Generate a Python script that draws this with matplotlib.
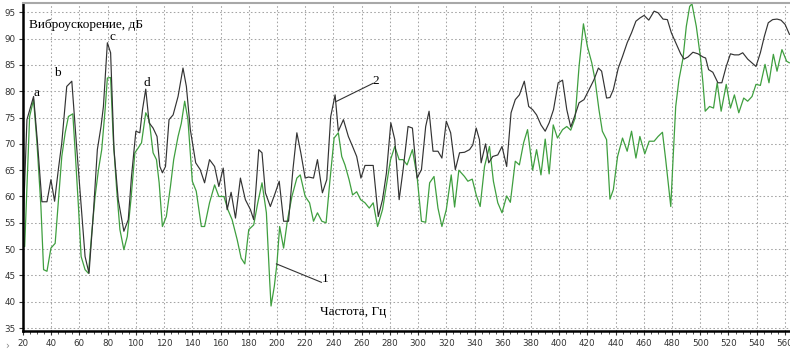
import matplotlib.pyplot as plt
from matplotlib.ticker import MultipleLocator

# black curve (2)
freq_black = [20, 22.8, 27.5, 30.2, 33.4, 37, 39.8, 42.4, 45, 47.5, 51, 54.6, 58, 61.6, 64, 66.8,
              69.9, 72.7, 75.3, 77, 79.8, 82.1, 84.5, 87.5, 91.5, 94.6, 96.9, 100, 102.8, 104.7,
              107, 109.4, 112.2, 115, 117, 118.8, 121, 123.5, 126.4, 129.9, 133.4, 135.8, 138.6,
              142.4, 145.6, 148.7, 152.2, 155.8, 158.8, 161.9, 164.7, 167.5, 170.6, 174.1, 177.6,
              181.2, 183.5, 187.1, 189.4, 191.8, 195.3, 198.8, 201.6, 204.7, 208.2, 211.3, 214.1,
              216.9, 220, 222.4, 225.9, 228.7, 232.2, 235.3, 238.1, 241.2, 243.5, 247.1, 250.6,
              253.6, 256.5, 259.5, 262.4, 268.2, 271.8, 274.8, 277.6, 280.7, 283.5, 286.6, 289.4,
              292.9, 296, 299.3, 302.4, 305.4, 307.8, 310.6, 314.1, 316.9, 320, 323.1, 326.4,
              329.4, 332.9, 336.5, 338.8, 341.2, 343.5, 344.7, 347.8, 350.1, 352.9, 356.5, 359.5,
              362.8, 365.9, 368.9, 371.8, 375.3, 378.4, 381.2, 384, 387.1, 390.1, 392.9, 396,
              399.3, 402.4, 405.4, 408.2, 411.3, 414.1, 417.6, 421.2, 424.7, 427.8, 430.1, 433.6,
              436, 438.4, 441.9, 444.9, 448.2, 451.3, 454.4, 457.2, 460.2, 463.5, 467.3, 470.1,
              473.6, 476.7, 479.5, 483.1, 486.1, 488.5, 491.3, 494.8, 498.4, 501.9, 503.8, 505.9,
              508.9, 512.5, 515.3, 518.4, 521.4, 524.2, 527.3, 530.1, 533.6, 536.5, 539.5, 542.6,
              545.4, 548.2, 551.3, 554.4, 557.2, 560.1, 563.2]
level_black = [53.7, 74.6, 79.0, 70.5, 59.0, 59.0, 63.2, 59.1, 65, 70.2, 80.9, 81.9, 69.5, 56.9, 48.6,
               45.4, 56.9, 68.9, 73.3, 77.1, 89.2, 87.3, 68.9, 59.4, 53.4, 55.6, 63.8, 72.4, 72.1,
               76.5, 80.4, 74, 73, 71.4, 65.7, 64.5, 65.7, 74.6, 75.5, 79, 84.4, 80.9, 72.7, 66.4,
               65.1, 62.6, 67, 65.7, 61.9, 65.4, 57.5, 60.8, 55.9, 63.5, 59.4, 57.5, 55.6, 68.9,
               68.3, 60.7, 58.1, 60.7, 62.9, 55.3, 55.3, 65.1, 72.1, 68.3, 63.5, 63.7, 63.5, 67,
               60.7, 63.2, 75.2, 79.3, 72.4, 74.6, 71.4, 69.5, 67.6, 63.5, 65.9, 65.9, 56.2, 59.4,
               64.5, 74, 70.8, 59.4, 65.1, 73.3, 73, 63.5, 65.1, 73.3, 76.2, 68.6, 68.6, 67.3,
               74.3, 72.1, 65.1, 68.3, 68.4, 68.9, 69.8, 73, 70.8, 66.4, 70, 66.4, 67.6, 67.9,
               69.5, 65.7, 75.9, 78.4, 79.3, 81.9, 77.1, 76.5, 75.5, 73.6, 72.4, 74, 76.5, 81.6,
               82.1, 76.5, 73.2, 75.5, 77.8, 78.4, 80.3, 82.2, 84.4, 83.8, 78.7, 78.8, 80.3, 84.4,
               86.6, 89.2, 91.1, 93.3, 93.9, 94.4, 93.5, 95.2, 94.9, 93.7, 93.6, 91.1, 88.9, 87.1,
               86.1, 86.5, 87.4, 87.1, 86.5, 86.3, 84.1, 83.6, 81.6, 81.6, 84.7, 87.1, 86.9, 86.9,
               87.3, 86.1, 85.4, 84.7, 87.3, 90.4, 93, 93.6, 93.7, 93.5, 92.7, 90.8]

# green curve (1)
freq_green = [20, 21.2, 24.7, 27.5, 29.9, 32.7, 34.6, 37, 39.8, 42.8, 45.2, 47.5, 49.9, 52.2, 55.3,
              56.9, 59.3, 61.2, 64, 66.4, 68.7, 71.1, 73.5, 75.8, 78.2, 79.8, 82.1, 84, 86.4, 88.7,
              91.5, 93.9, 96.5, 99.3, 101.6, 104, 107, 109.4, 112.2, 114.6, 116.5, 118.8, 121.6,
              124.5, 126.8, 129.9, 132.2, 134.6, 136.9, 140, 142.8, 146.4, 148.7, 152.2, 155.8,
              158.8, 162.4, 165.2, 168.2, 171.8, 174.6, 177.2, 180, 183.5, 186.4, 189.4, 192.5,
              194.8, 195.8, 198.1, 200, 201.9, 204.7, 207.5, 210.6, 214.1, 216.5, 220, 223.1,
              225.9, 228.7, 231.8, 234.8, 237.6, 240.5, 243.5, 245.9, 248.2, 251.1, 253.6, 256.5,
              259.3, 262.4, 265.4, 268.2, 271.3, 274.8, 277.6, 280.5, 283.5, 286.6, 289.4, 292.2,
              296, 299.3, 302.4, 305.4, 308.2, 311.3, 314.1, 316.9, 320, 323.5, 325.9, 328.9,
              332.9, 335.3, 338.4, 341.2, 344, 347.1, 350.6, 353.4, 356.5, 359.5, 362.8, 365.4,
              368.9, 371.8, 374.8, 377.6, 381.2, 384, 387.1, 390.1, 392.9, 395.8, 398.8, 402.4,
              405.4, 408.2, 411.3, 414.1, 417.2, 420, 423.1, 425.4, 428.2, 430.6, 433.6, 436,
              438.4, 441.4, 444.9, 448.2, 451.3, 454.4, 457.2, 460.7, 463.8, 467.3, 470.1, 473.2,
              475.5, 477.6, 479.1, 480.7, 482.6, 484.9, 487.8, 490.1, 492.5, 494.1, 497.2, 500.2,
              501.9, 503.5, 506.6, 509.4, 512, 514.8, 518.4, 521.4, 524.2, 527.3, 530.8, 533.6,
              536.7, 539.5, 542.6, 545.9, 548.7, 551.8, 554.4, 557.9, 561.2, 563.1]
level_green = [50.5, 50.5, 75.2, 78.4, 70.2, 58.1, 46.1, 45.8, 50.2, 51.1, 59.4, 67.6, 72.1, 75.2,
               75.7, 68.9, 58.1, 48.6, 46.1, 45.4, 53, 60, 65.1, 68.9, 76.5, 82.5, 82.6, 70.8,
               61.3, 53.7, 49.9, 52.4, 59.4, 68.3, 69.2, 70.2, 75.9, 74.6, 68.3, 67, 62.6, 54.3,
               56.2, 61.9, 67, 71.4, 73.9, 78.1, 74.6, 62.9, 61, 54.3, 54.3, 58.8, 62.2, 60, 60,
               57.5, 55.6, 51.8, 48.3, 47.2, 53.7, 54.6, 58.8, 62.6, 56.9, 44.2, 39.2, 42.9, 47.3,
               54.3, 50.2, 55.6, 60, 63.5, 64.1, 60, 58.8, 55.3, 56.9, 55.3, 55, 63.2, 71.1, 72.1,
               67.6, 66, 63.2, 60.3, 60.9, 59.4, 58.8, 57.8, 58.8, 54.3, 57.5, 62.2, 67, 69.5, 67,
               67, 66, 68.9, 63.8, 55.3, 55.1, 62.6, 63.8, 57.8, 54.3, 57.5, 64.1, 58, 65, 63.8,
               62.9, 63.3, 60.3, 58.1, 65.7, 69.5, 62.9, 58.8, 56.9, 60.1, 58.9, 66.7, 66, 70.2,
               72.7, 65, 68.9, 64.1, 70.9, 64.3, 73.6, 71.1, 72.7, 73.3, 72.6, 74.9, 84.7, 92.8,
               88.5, 85.4, 82.2, 76.5, 72.4, 70.8, 59.5, 61.3, 67.6, 71.1, 68.6, 72.4, 67.3, 71.4,
               68.1, 70.5, 70.5, 71.4, 72.2, 67, 61.9, 58.1, 67, 77.1, 82.2, 86.3, 92.3, 96.1,
               96.6, 92.3, 86.3, 81.6, 76.2, 77.1, 76.8, 81.6, 76.2, 81.3, 76.8, 79.3, 75.9, 78.7,
               78.1, 79, 81.3, 81.1, 85.1, 81.6, 87, 83.8, 87.9, 85.7, 85.4]

x_ticks = list(range(20, 561, 20))
y_ticks = list(range(35, 96, 5))

fig = plt.figure(figsize=(7.9, 3.53), dpi=100)
ax = fig.add_axes([0.0291, 0.0623, 0.9709, 0.9284])

ax.plot(freq_green, level_green, color='#3f9f3f', lw=0.9)
ax.plot(freq_black, level_black, color='#333333', lw=0.85)

ax.set_xlim(20, 563.6)
ax.set_ylim(34.45, 96.7)
ax.set_xticks(x_ticks)
ax.set_yticks(y_ticks)
ax.xaxis.set_minor_locator(MultipleLocator(5))
ax.grid(True, which='major', color='#a4a4a4', ls=(0, (1.5, 2.2)), lw=0.75)
ax.tick_params(axis='both', which='major', labelsize=6.3, labelcolor='#333333',
               length=3, width=0.8, pad=2.5, color='#333333')
ax.tick_params(axis='x', which='minor', length=2, width=0.6, color='#333333')

ax.spines['left'].set_linewidth(1.8)
ax.spines['bottom'].set_linewidth(1.8)
ax.spines['right'].set_visible(False)
ax.spines['top'].set_color('#a8a8a8')
ax.spines['top'].set_linewidth(1.5)

serif = 'Liberation Serif'
ax.text(24.6, 92.6, 'Виброускорение, дБ', family=serif, fontsize=9.5, va='center')
ax.text(230.3, 38.0, 'Частота, Гц', family=serif, fontsize=9.5, va='center')
for lbl, lx, ly in [('a', 29.8, 79.7), ('b', 44.2, 83.4), ('c', 83.7, 90.3), ('d', 107.6, 81.6)]:
    ax.text(lx, ly, lbl, family=serif, fontsize=9.5, ha='center', va='center')

ax.plot([199.6, 231.5], [47.2, 43.7], color='#333333', lw=0.8)
ax.text(234.3, 44.4, '1', family=serif, fontsize=9.5, ha='center', va='center')
ax.plot([241.6, 268.1], [78.0, 81.5], color='#333333', lw=0.8)
ax.text(269.8, 82.0, '2', family=serif, fontsize=9.5, ha='center', va='center')

fig.text(0.007, 0.012, '›', fontsize=7, color='#888888')

fig.savefig('out.png', dpi=100)
